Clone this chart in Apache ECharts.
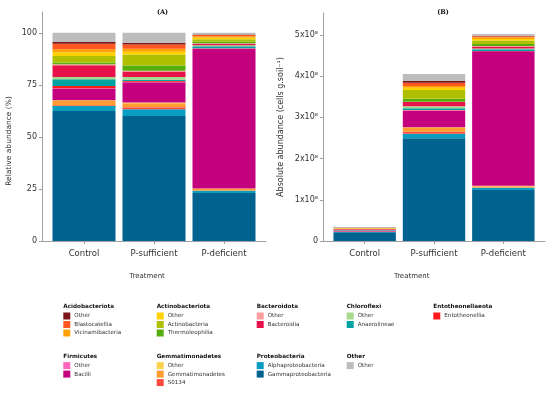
<!DOCTYPE html>
<html><head><meta charset="utf-8">
<script src="https://cdn.jsdelivr.net/npm/echarts@6/dist/echarts.min.js"></script>
<style>html,body{margin:0;padding:0;background:#fff}#c{width:550px;height:394px}</style>
</head><body><div id="c"></div>
<script>
// ---------- data ----------
const categories = ['Control', 'P-sufficient', 'P-deficient'];
// stack order, bottom -> top ("Group|Taxon")
const taxa = [
  'Proteobacteria|Gammaproteobacteria', 'Proteobacteria|Alphaproteobacteria',
  'Gemmatimonadetes|S0134', 'Gemmatimonadetes|Gemmatimonadetes', 'Gemmatimonadetes|Other',
  'Firmicutes|Bacilli', 'Firmicutes|Other',
  'Entotheonellaeota|Entotheonellia',
  'Chloroflexi|Anaerolineae', 'Chloroflexi|Other',
  'Bacteroidota|Bacteroidia', 'Bacteroidota|Other',
  'Actinobacteriota|Thermoleophilia', 'Actinobacteriota|Actinobacteria', 'Actinobacteriota|Other',
  'Acidobacteriota|Vicinamibacteria', 'Acidobacteriota|Blastocatellia', 'Acidobacteriota|Other',
  'Other|Other'
];
const colors = ['#00628f', '#0a9dc2', '#ff4b3e', '#ff9b2f', '#ffd24d', '#c5007e', '#ff66bf',
  '#ff1a1a', '#00a3a3', '#a8da8e', '#e8124b', '#ff9e9e', '#56ae0a', '#aebf00', '#ffd200',
  '#ffa300', '#ff5722', '#7a1518', '#bdbdbd'];
// relative abundance (%) per treatment, same order as taxa
const relControl = [62.4, 2.5, 0.3, 2.1, 0.3, 5.6, 0.2, 1.1, 3.2, 1.1, 5.6, 0.5, 0.8, 3.2, 1.6, 1.6, 2.7, 0.8, 4.4];
const relSuff    = [60.1, 3.2, 1.0, 1.9, 0.3, 9.8, 0.2, 0.3, 0.7, 1.3, 2.6, 0.4, 2.5, 5.3, 1.3, 1.4, 2.1, 0.8, 4.8];
const relDef     = [23.0, 1.1, 0.2, 0.7, 0.2, 67.2, 0.1, 0.1, 0.9, 0.5, 0.8, 0.2, 0.8, 1.1, 0.7, 0.7, 0.6, 0.3, 0.8];
// absolute abundance (x10^8 cells g soil^-1)
const absControl = [0.212, 0.009, 0.001, 0.007, 0.001, 0.019, 0.001, 0.004, 0.011, 0.004, 0.019, 0.002, 0.003, 0.011, 0.005, 0.005, 0.009, 0.003, 0.015];
const absSuff    = [2.49, 0.11, 0.05, 0.10, 0.01, 0.40, 0.01, 0.01, 0.04, 0.05, 0.10, 0.01, 0.07, 0.21, 0.06, 0.04, 0.08, 0.04, 0.17];
const absDef     = [1.24, 0.05, 0.01, 0.03, 0.01, 3.26, 0.005, 0.005, 0.04, 0.02, 0.05, 0.01, 0.05, 0.08, 0.04, 0.04, 0.025, 0.015, 0.04];
const ticksA = [0, 25, 50, 75, 100];
const ticksB = [0, 1, 2, 3, 4, 5];
// legend groups in display order
const groups = [
  ['Acidobacteriota', ['Other', 'Blastocatellia', 'Vicinamibacteria']],
  ['Actinobacteriota', ['Other', 'Actinobacteria', 'Thermoleophilia']],
  ['Bacteroidota', ['Other', 'Bacteroidia']],
  ['Chloroflexi', ['Other', 'Anaerolineae']],
  ['Entotheonellaeota', ['Entotheonellia']],
  ['Firmicutes', ['Other', 'Bacilli']],
  ['Gemmatimonadetes', ['Other', 'Gemmatimonadetes', 'S0134']],
  ['Proteobacteria', ['Alphaproteobacteria', 'Gammaproteobacteria']],
  ['Other', ['Other']]
];

// ---------- chart ----------
const FONT = 'DejaVu Sans';
const chart = echarts.init(document.getElementById('c'), null, {renderer: 'canvas'});
const axisCol = '#a0a0a0';
const txt = {fontFamily: FONT, fontSize: 8, color: '#333'};

// frame axes (grids 0,1): axis line + y axis; bar axes (grids 2,3): categories
function frameX(gi) {
  return {type: 'value', gridIndex: gi, min: 0, max: 1,
    axisLine: {show: true, lineStyle: {color: axisCol, width: 1}},
    axisTick: {show: false}, axisLabel: {show: false}, splitLine: {show: false}};
}
function barX(gi) {
  return {type: 'category', gridIndex: gi, data: categories, boundaryGap: true,
    axisLine: {show: false},
    axisTick: {show: true, alignWithLabel: true, length: 3, lineStyle: {color: axisCol}},
    axisLabel: Object.assign({margin: 8}, txt, {fontSize: 8.5}), splitLine: {show: false}};
}
function hiddenY(gi, max) {
  return {type: 'value', gridIndex: gi, min: 0, max: max, show: false};
}

const posLeg = [[63.3, 306.7], [156.7, 306.7], [256.7, 306.7], [346.7, 306.7], [433.3, 306.7],
  [63.3, 356.3], [156.7, 356.3], [256.7, 356.3], [346.7, 356.3]];
const legends = [], graphics = [];
groups.forEach((g, i) => {
  const [x, y] = posLeg[i];
  graphics.push({type: 'text', x: x, y: y, style: {text: g[0], font: 'bold 5.7px "' + FONT + '"',
    fill: '#111', verticalAlign: 'middle'}});
  legends.push({
    left: x, top: y + 5.8, orient: 'vertical', padding: 0, itemGap: 1.5,
    itemWidth: 7, itemHeight: 7, icon: 'rect', selectedMode: false,
    data: g[1].map(t => g[0] + '|' + t),
    formatter: n => n.split('|')[1],
    textStyle: {fontFamily: FONT, fontSize: 5.6, color: '#333', lineHeight: 7, padding: [0, 0, 0, -1]}
  });
});
// panel titles and axis titles
graphics.push({type: 'text', x: 162.5, y: 12, style: {text: '(A)', font: 'bold 6.5px "DejaVu Serif"',
  fill: '#111', align: 'center', verticalAlign: 'middle'}});
graphics.push({type: 'text', x: 443, y: 12, style: {text: '(B)', font: 'bold 6.5px "DejaVu Serif"',
  fill: '#111', align: 'center', verticalAlign: 'middle'}});
graphics.push({type: 'text', x: 147, y: 275.7, style: {text: 'Treatment', font: '7px "' + FONT + '"',
  fill: '#333', align: 'center', verticalAlign: 'middle'}});
graphics.push({type: 'text', x: 411.7, y: 275.7, style: {text: 'Treatment', font: '7px "' + FONT + '"',
  fill: '#333', align: 'center', verticalAlign: 'middle'}});
graphics.push({type: 'text', x: 8.8, y: 141, rotation: Math.PI / 2,
  style: {text: 'Relative abundance (%)', font: '7.5px "' + FONT + '"',
  fill: '#333', align: 'center', verticalAlign: 'middle'}});
graphics.push({type: 'text', x: 280.5, y: 127, rotation: Math.PI / 2,
  style: {text: 'Absolute abundance (cells g.soil\u207B\u00B9)', font: '8px "' + FONT + '"',
  fill: '#333', align: 'center', verticalAlign: 'middle'}});

const series = [];
taxa.forEach((t, k) => {
  series.push({type: 'bar', name: t, stack: 'rel', xAxisIndex: 2, yAxisIndex: 2, barWidth: '90%',
    itemStyle: {color: colors[k]}, data: [relControl[k], relSuff[k], relDef[k]]});
  series.push({type: 'bar', name: t, stack: 'abs', xAxisIndex: 3, yAxisIndex: 3, barWidth: '90%',
    itemStyle: {color: colors[k]}, data: [absControl[k], absSuff[k], absDef[k]]});
});

const maxA = 110, maxB = 5.53;
chart.setOption({
  animation: false,
  backgroundColor: '#fff',
  grid: [
    {left: 42, top: 12, width: 224, height: 229},
    {left: 323, top: 13, width: 222, height: 228},
    {left: 49, top: 12, width: 210, height: 229},
    {left: 330, top: 13, width: 208, height: 228}
  ],
  xAxis: [frameX(0), frameX(1), barX(2), barX(3)],
  yAxis: [
    {type: 'value', gridIndex: 0, min: 0, max: maxA,
      axisLine: {show: true, lineStyle: {color: axisCol}},
      axisTick: {show: true, length: 3, lineStyle: {color: axisCol}, customValues: ticksA},
      axisLabel: Object.assign({margin: 5, customValues: ticksA}, txt),
      splitLine: {show: false}},
    {type: 'value', gridIndex: 1, min: 0, max: maxB,
      axisLine: {show: true, lineStyle: {color: axisCol}},
      axisTick: {show: true, length: 3, lineStyle: {color: axisCol}, customValues: ticksB},
      axisLabel: Object.assign({margin: 5, customValues: ticksB,
        formatter: v => v === 0 ? '0' : v + 'x10\u2078'}, txt),
      splitLine: {show: false}},
    hiddenY(2, maxA),
    hiddenY(3, maxB)
  ],
  legend: legends,
  graphic: graphics,
  series: series
});
</script></body></html>
